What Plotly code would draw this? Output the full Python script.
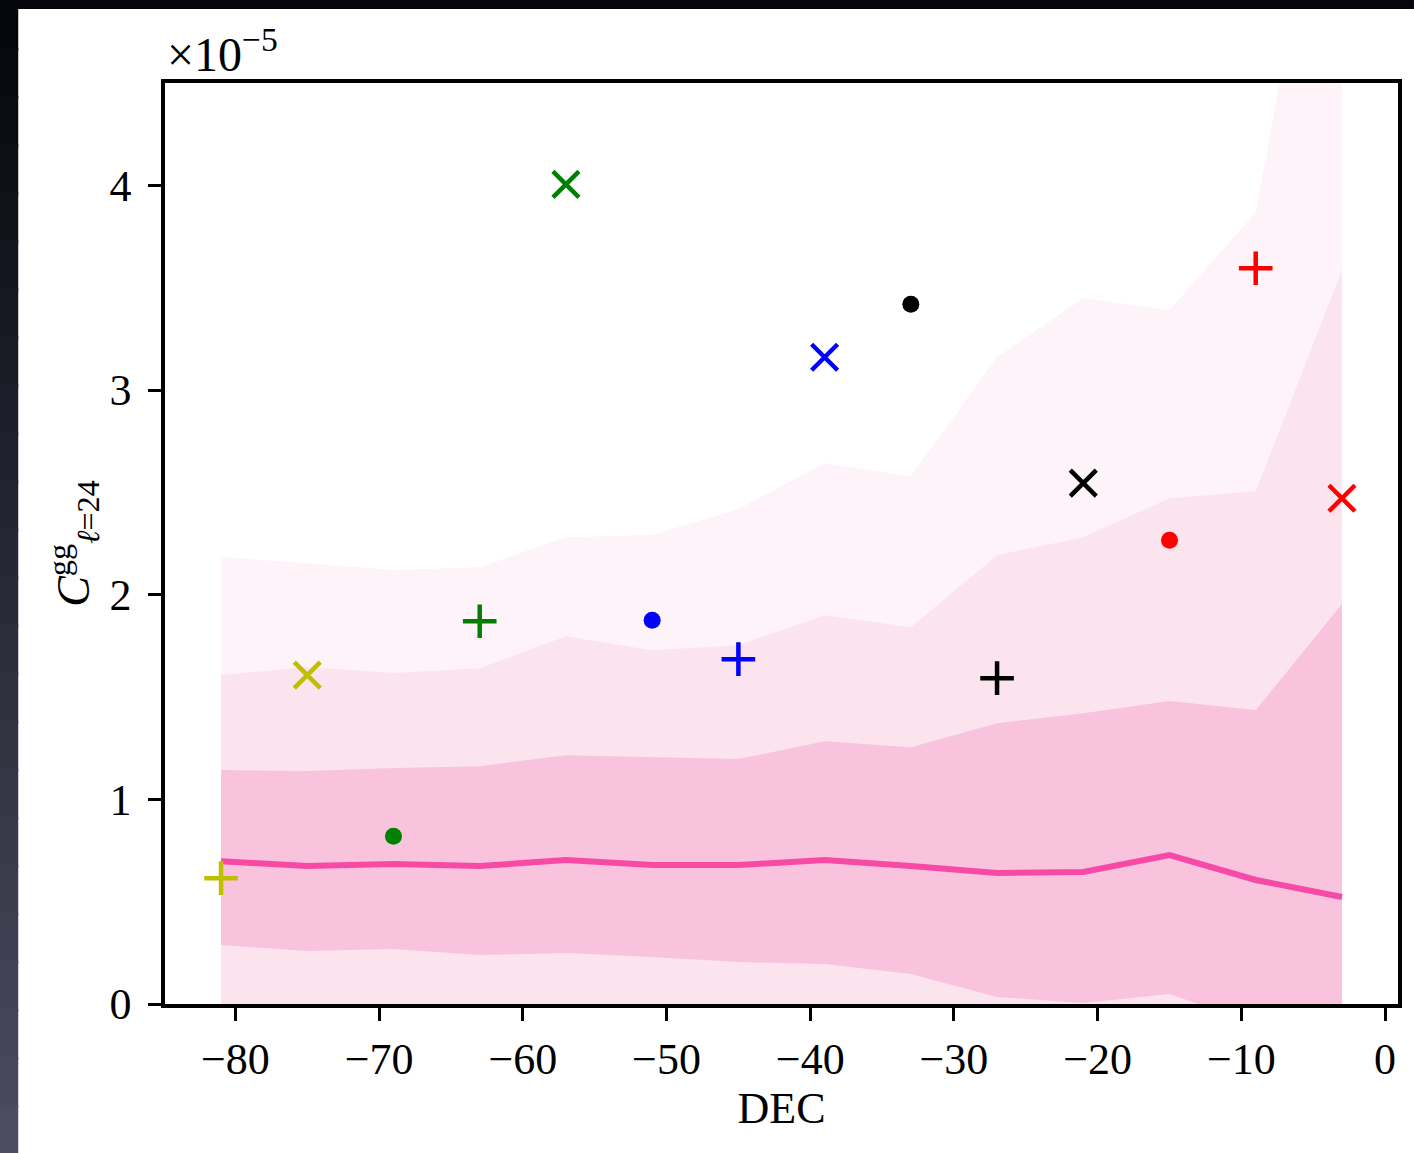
import plotly.graph_objects as go

# DEC bin centres
dec = [-81, -75, -69, -63, -57, -51, -45, -39, -33, -27, -21, -15, -9, -3]

# values in units of 1e-5
median = [0.698, 0.674, 0.684, 0.674, 0.703, 0.679, 0.679, 0.703, 0.674, 0.640, 0.645, 0.728, 0.606, 0.523]
band1_hi = [1.143, 1.138, 1.153, 1.162, 1.216, 1.206, 1.197, 1.284, 1.255, 1.372, 1.421, 1.480, 1.436, 1.954]
band1_lo = [0.288, 0.259, 0.269, 0.239, 0.249, 0.230, 0.205, 0.195, 0.147, 0.034, 0.005, 0.049, -0.10, -0.20]
band2_hi = [1.607, 1.646, 1.617, 1.641, 1.797, 1.729, 1.753, 1.900, 1.841, 2.193, 2.281, 2.471, 2.505, 3.585]
band2_lo = [-0.45, -0.50, -0.48, -0.52, -0.50, -0.53, -0.55, -0.57, -0.60, -0.70, -0.75, -0.70, -0.90, -1.20]
band3_hi = [2.183, 2.154, 2.120, 2.134, 2.281, 2.291, 2.418, 2.642, 2.579, 3.160, 3.448, 3.390, 3.868, 6.15]
band3_lo = [-1.00, -1.05, -1.02, -1.08, -1.05, -1.10, -1.15, -1.20, -1.25, -1.40, -1.50, -1.45, -1.80, -2.40]

# per-bin measured points
pt_dec = [-81, -75, -69, -63, -57, -51, -45, -39, -33, -27, -21, -15, -9, -3]
pt_val = [0.615, 1.607, 0.820, 1.870, 4.005, 1.875, 1.685, 3.160, 3.419, 1.592, 2.545, 2.266, 3.595, 2.471]
pt_col = ["#bfbf00", "#bfbf00", "#008000", "#008000", "#008000", "#0000ff", "#0000ff", "#0000ff",
          "#000000", "#000000", "#000000", "#ff0000", "#ff0000", "#ff0000"]
pt_sym = ["plus", "x", "dot", "plus", "x", "dot", "plus", "x", "dot", "plus", "x", "dot", "plus", "x"]

x_ticks = [-80, -70, -60, -50, -40, -30, -20, -10, 0]
y_ticks = [0, 1, 2, 3, 4]

FONT = "Liberation Serif"
W, H = 1414, 1153
L, R, T, B = 165, 14, 83, 149
PW, PH = W - L - R, H - T - B


def px2paper_x(px):
    return (px - L) / PW


def px2paper_y(py):
    return (H - B - py) / PH


fig = go.Figure()

for hi, lo, col in [(band3_hi, band3_lo, "#fdf3f8"), (band2_hi, band2_lo, "#fce4ef"), (band1_hi, band1_lo, "#f9c3de")]:
    fig.add_trace(go.Scatter(
        x=dec + dec[::-1], y=hi + lo[::-1], mode="lines", fill="toself",
        fillcolor=col, line=dict(width=0, color=col), hoverinfo="skip", showlegend=False))

fig.add_trace(go.Scatter(x=dec, y=median, mode="lines", line=dict(color="#f74aa6", width=6), showlegend=False))

sym_map = {"plus": "cross-thin", "x": "x-thin", "dot": "circle"}
for kind in ["plus", "x", "dot"]:
    idx = [i for i, s in enumerate(pt_sym) if s == kind]
    xs = [pt_dec[i] for i in idx]
    ys = [pt_val[i] for i in idx]
    cs = [pt_col[i] for i in idx]
    if kind == "dot":
        marker = dict(symbol="circle", size=17, color=cs, line=dict(width=0))
    else:
        marker = dict(symbol=sym_map[kind], size=26 if kind == "x" else 24, color=cs,
                      line=dict(width=4.5, color=cs))
    fig.add_trace(go.Scatter(x=xs, y=ys, mode="markers", marker=marker, showlegend=False))

# dark screenshot border (top strip + left strip gradient)
shapes = []
nseg = 24
for i in range(nseg):
    t = i / (nseg - 1)
    r = int(5 + t * (76 - 5))
    g = int(5 + t * (76 - 5))
    b = int(12 + t * (96 - 12))
    y0 = i * H / nseg
    y1 = (i + 1) * H / nseg + 3
    shapes.append(dict(type="rect", xref="paper", yref="paper", x0=px2paper_x(-2), x1=px2paper_x(18),
                       y0=px2paper_y(y1), y1=px2paper_y(y0), fillcolor=f"rgb({r},{g},{b})",
                       line=dict(width=0), layer="below"))
shapes.append(dict(type="rect", xref="paper", yref="paper", x0=px2paper_x(-2), x1=px2paper_x(W + 2),
                   y0=px2paper_y(9), y1=px2paper_y(-2), fillcolor="#05050c", line=dict(width=0), layer="below"))

fig.update_layout(
    width=W, height=H,
    margin=dict(l=L, r=R, t=T, b=B, pad=0),
    paper_bgcolor="white", plot_bgcolor="rgba(0,0,0,0)",
    font=dict(family=FONT, size=44, color="black"),
    shapes=shapes,
    annotations=[dict(text="×10<sup>−5</sup>", xref="paper", yref="paper", x=0, y=1,
                      xanchor="left", yanchor="bottom", showarrow=False, yshift=0, xshift=0,
                      font=dict(family=FONT, size=48, color="black"))],
    xaxis=dict(range=[-84.9, 0.9], tickvals=x_ticks, ticks="outside", ticklen=13, tickwidth=2.5,
               tickcolor="black", showline=True, linewidth=3.5, linecolor="black", mirror=True,
               showgrid=False, zeroline=False,
               title=dict(text="DEC", font=dict(family=FONT, size=44), standoff=9)),
    yaxis=dict(range=[0, 4.5], tickvals=y_ticks, ticks="outside", ticklen=13, tickwidth=2.5,
               tickcolor="black", showline=True, linewidth=3.5, linecolor="black", mirror=True,
               showgrid=False, zeroline=False, ticklabelstandoff=8,
               title=dict(text="<i>C</i><sup>gg</sup><sub><i>ℓ</i>=24</sub>", font=dict(family=FONT, size=46), standoff=6)),
)

fig.write_html("out.html")
